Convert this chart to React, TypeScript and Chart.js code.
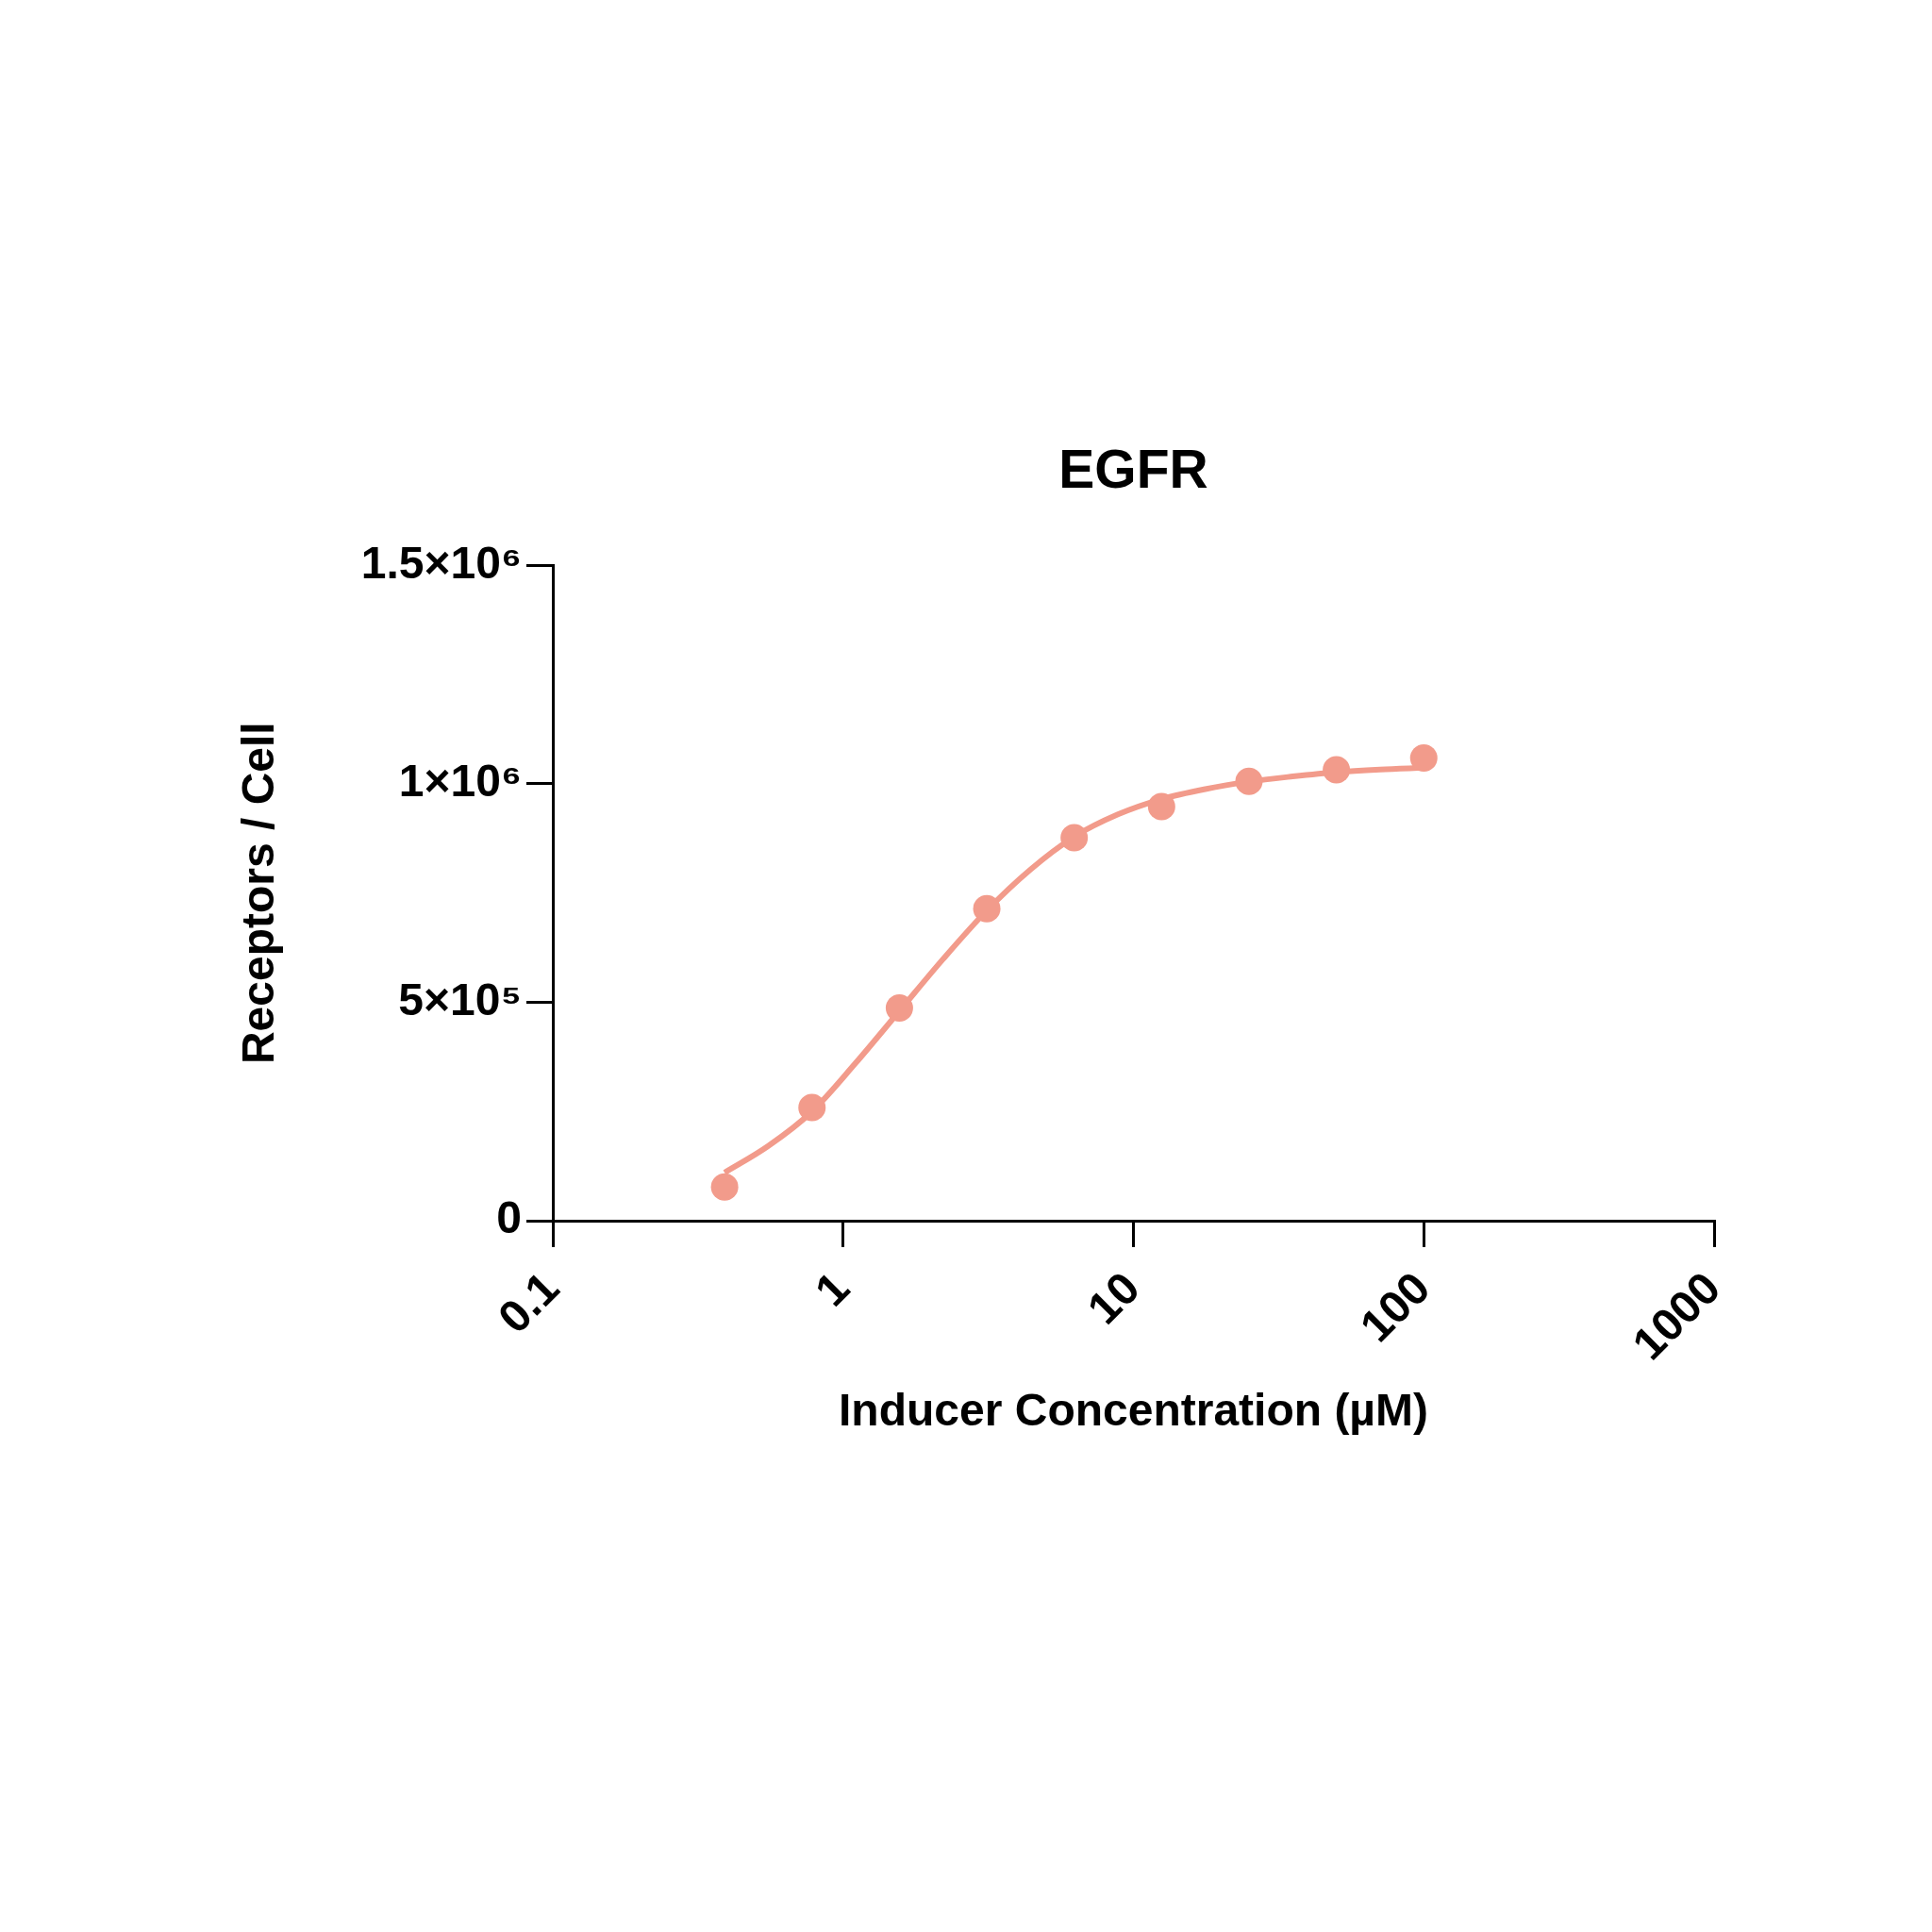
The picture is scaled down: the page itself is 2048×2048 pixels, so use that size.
import { useEffect, useRef } from "react";
import { Chart, registerables } from "chart.js";

Chart.register(...registerables);

const FONT = "'Liberation Sans', Arial, Helvetica, sans-serif";
const MARK = "#F29B8B";

// measured points (µM, receptors per cell)
const concentrations = [0.390625, 0.78125, 1.5625, 3.125, 6.25, 12.5, 25, 50, 100];
const receptors = [77000, 259000, 487000, 714000, 877000, 948000, 1006000, 1032000, 1059000];

// fitted curve
const curveX = [
  0.390625, 0.5524, 0.78125, 1.1049, 1.5625, 2.2097, 3.125, 4.4194, 6.25,
  8.8388, 12.5, 17.678, 25, 35.355, 50, 70.711, 100,
];
const curveY = [
  110000, 171000, 250000, 361000, 480000, 599000, 710000, 804000, 879000,
  930000, 965000, 988000, 1005000, 1017000, 1027000, 1033000, 1037000,
];

const xTicks = [0.1, 1, 10, 100, 1000];
const xTickLabels = ["0.1", "1", "10", "100", "1000"];
const yTicks = [0, 500000, 1000000, 1500000];
const yTickLabels = ["0", "5×10⁵", "1×10⁶", "1.5×10⁶"];

export default function App() {
  const canvasRef = useRef<HTMLCanvasElement | null>(null);

  useEffect(() => {
    if (!canvasRef.current) {
      return;
    }

    const chart = new Chart(canvasRef.current, {
      type: "scatter",
      data: {
        datasets: [
          {
            label: "EGFR",
            data: concentrations.map((x, i) => ({ x, y: receptors[i] })),
            backgroundColor: MARK,
            borderColor: MARK,
            pointRadius: 14.5,
            pointBorderWidth: 0,
            order: 0,
          },
          {
            label: "fit",
            data: curveX.map((x, i) => ({ x, y: curveY[i] })),
            showLine: true,
            borderColor: MARK,
            borderWidth: 6,
            pointRadius: 0,
            cubicInterpolationMode: "monotone",
            order: 1,
          },
        ],
      },
      options: {
        animation: false,
        responsive: true,
        maintainAspectRatio: false,
        devicePixelRatio: 1,
        layout: {
          padding: { top: 0, left: 0, right: 231, bottom: 494 },
        },
        plugins: {
          legend: { display: false },
          tooltip: { enabled: false },
          title: {
            display: true,
            text: "EGFR",
            color: "#000",
            fullSize: false,
            font: { family: FONT, size: 57, weight: "bold", lineHeight: 1.2 },
            padding: { top: 467, bottom: 64 },
          },
        },
        scales: {
          x: {
            type: "logarithmic",
            min: 0.1,
            max: 1000,
            afterBuildTicks: (scale) => {
              scale.ticks = xTicks.map((value) => ({ value }));
            },
            afterFit: (scale) => {
              scale.height = 260;
            },
            ticks: {
              color: "#000",
              minRotation: 45,
              maxRotation: 45,
              padding: 17,
              font: { family: FONT, size: 48, weight: "bold" },
              callback: (_value, index) => xTickLabels[index],
            },
            grid: {
              drawOnChartArea: false,
              drawTicks: true,
              tickLength: 28,
              color: "#000",
              lineWidth: 3,
            },
            border: { display: true, color: "#000", width: 3 },
            title: {
              display: true,
              text: "Inducer Concentration (µM)",
              color: "#000",
              font: { family: FONT, size: 48, weight: "bold", lineHeight: 1.2 },
              padding: { top: 0, bottom: 27 },
            },
          },
          y: {
            min: 0,
            max: 1500000,
            afterBuildTicks: (scale) => {
              scale.ticks = yTicks.map((value) => ({ value }));
            },
            afterFit: (scale) => {
              scale.width = 586;
            },
            ticks: {
              color: "#000",
              padding: 5,
              font: { family: FONT, size: 48, weight: "bold" },
              callback: (_value, index) => yTickLabels[index],
            },
            grid: {
              drawOnChartArea: false,
              drawTicks: true,
              tickLength: 28,
              color: "#000",
              lineWidth: 3,
            },
            border: { display: true, color: "#000", width: 3 },
            title: {
              display: true,
              text: "Receptors / Cell",
              color: "#000",
              font: { family: FONT, size: 48, weight: "bold", lineHeight: 1.2 },
              padding: { top: 248, bottom: 0 },
            },
          },
        },
      },
    });

    return () => {
      chart.destroy();
    };
  }, []);

  return (
    <div
      style={{
        position: "absolute",
        left: 0,
        top: 0,
        width: 2048,
        height: 2048,
        background: "#fff",
      }}
    >
      <canvas ref={canvasRef} />
    </div>
  );
}
